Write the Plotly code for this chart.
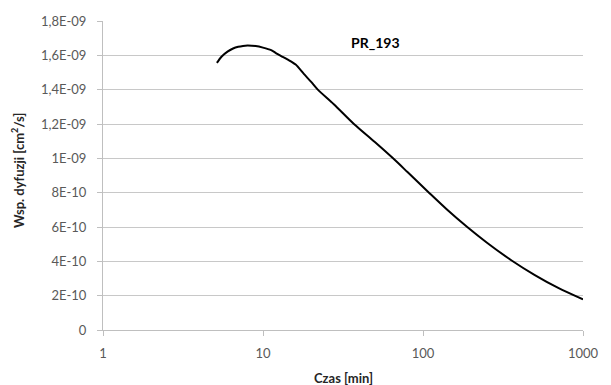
import plotly.graph_objects as go

time_min = [5.15, 5.5, 6, 6.5, 7, 7.5, 8, 9, 10, 11.25, 12.1, 13, 14.3, 16, 18, 20, 22, 27.7,
            37, 50, 65, 80, 109, 140, 189, 250, 358, 500, 700, 1000]
diff_coef = [1.556e-9, 1.592e-9, 1.622e-9, 1.640e-9, 1.650e-9, 1.655e-9, 1.657e-9, 1.654e-9,
             1.645e-9, 1.630e-9, 1.612e-9, 1.596e-9, 1.575e-9, 1.546e-9, 1.492e-9, 1.445e-9,
             1.40e-9, 1.315e-9, 1.20e-9, 1.095e-9, 1.00e-9, 0.92e-9, 0.80e-9, 0.705e-9,
             0.60e-9, 0.51e-9, 0.405e-9, 0.32e-9, 0.245e-9, 0.178e-9]

y_tickvals = [0, 0.2e-9, 0.4e-9, 0.6e-9, 0.8e-9, 1.0e-9, 1.2e-9, 1.4e-9, 1.6e-9, 1.8e-9]
y_ticktext = ["0", "2E-10", "4E-10", "6E-10", "8E-10", "1E-09", "1,2E-09", "1,4E-09", "1,6E-09", "1,8E-09"]
x_tickvals = [1, 10, 100, 1000]
x_ticktext = ["1", "10", "100", "1000"]

FONT = "Lato"
fig = go.Figure()
fig.add_trace(go.Scatter(x=time_min, y=diff_coef, mode="lines",
                         line=dict(color="black", width=2, shape="spline", smoothing=0.8),
                         showlegend=False, hoverinfo="skip"))

fig.update_layout(
    width=611, height=385,
    margin=dict(l=103, r=22, t=21, b=55),
    paper_bgcolor="white", plot_bgcolor="white",
    font=dict(family=FONT, size=13, color="#595959"),
    xaxis=dict(type="log", range=[0, 3], tickvals=x_tickvals, ticktext=x_ticktext,
               showgrid=False, showline=True, linecolor="#bfbfbf", linewidth=1,
               ticks="outside", ticklen=5, tickcolor="#bfbfbf",
               ticklabelstandoff=6, zeroline=False),
    yaxis=dict(range=[0, 1.8e-9], tickvals=y_tickvals, ticktext=y_ticktext,
               showgrid=True, gridcolor="#c8c8c8", gridwidth=1,
               showline=True, linecolor="#bfbfbf", linewidth=1,
               ticks="outside", ticklen=5, tickcolor="#bfbfbf",
               ticklabelstandoff=8, zeroline=False),
    annotations=[
        dict(text="<b>PR_193</b>", x=1.70, y=1.674e-9, xref="x", yref="y",
             showarrow=False, font=dict(family=FONT, size=14, color="black")),
        dict(text="<b>Czas [min]</b>", x=0.5, y=-0.155, xref="paper", yref="paper",
             showarrow=False, yanchor="middle", font=dict(family=FONT, size=13, color="#262626")),
        dict(text="<b>Wsp. dyfuzji [cm<sup>2</sup>/s]</b>", x=-0.177, y=0.515, xref="paper",
             yref="paper", textangle=-90, showarrow=False, xanchor="center",
             font=dict(family=FONT, size=13, color="#262626")),
    ],
)

fig.write_html("out.html")
